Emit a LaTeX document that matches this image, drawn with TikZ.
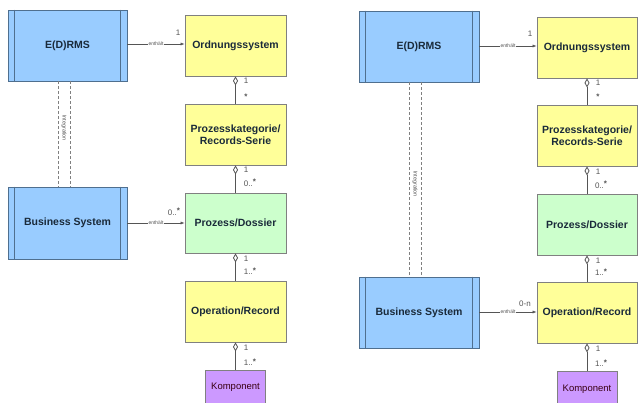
\documentclass[tikz,border=0pt]{standalone}
\usepackage{fontspec}
\setmainfont{Liberation Sans}
\usetikzlibrary{arrows.meta}
\definecolor{bluefill}{HTML}{99CCFF}
\definecolor{blueline}{HTML}{4F6F8F}
\definecolor{yellowfill}{HTML}{FFFF99}
\definecolor{greenfill}{HTML}{CCFFCC}
\definecolor{purplefill}{HTML}{CC99FF}
\definecolor{boxline}{HTML}{808080}
\definecolor{txt}{HTML}{1A2A3A}
\definecolor{lbl}{HTML}{555555}
\newcommand{\mstar}{\raisebox{1.5pt}{\textbf{*}}}
\tikzset{
  sysbox/.style={draw=blueline, line width=0.9pt, fill=bluefill, minimum width=119pt, minimum height=71pt, inner sep=0pt, font=\bfseries\fontsize{10.5}{12.5}\selectfont, text=txt},
  entbox/.style={draw=boxline, line width=0.8pt, minimum width=101pt, minimum height=61pt, inner sep=0pt, align=center, font=\bfseries\fontsize{10.5}{12.5}\selectfont, text=txt},
  kompbox/.style={draw=boxline, line width=0.8pt, fill=purplefill, minimum width=60pt, minimum height=45pt, inner sep=0pt},
  ktext/.style={font=\fontsize{9.5}{11}\selectfont, text=black!70!purple},
  agg/.style={draw=lbl, line width=0.8pt, {Diamond[open,length=9pt,width=5pt]}-},
  assoc/.style={draw=lbl, line width=0.6pt, -{Latex[length=4pt,width=3pt]}},
  integ/.style={draw=gray, line width=0.6pt, dash pattern=on 3pt off 2pt},
  mult/.style={font=\fontsize{8}{9}\selectfont, text=lbl, inner sep=0pt},
  ename/.style={font=\fontsize{5}{6}\selectfont, text=lbl, fill=white, inner sep=0.5pt},
  iname/.style={font=\fontsize{5.5}{6}\selectfont, text=lbl, rotate=-90, inner sep=0pt},
}
\begin{document}
\begin{tikzpicture}[x=1pt, y=-1pt]
\clip (0,0) rectangle (638,403);
\fill[white] (0,0) rectangle (638,403);
% ---------- left diagram ----------
\node[sysbox] (edrmsL) at (67.5,45.5) {E(D)RMS};
\node[sysbox, minimum height=72pt] (bsL) at (67.5,223) {Business System};
\node[entbox, fill=yellowfill] (ordL) at (235.5,45.5) {Ordnungssystem};
\node[entbox, fill=yellowfill] (pkL) at (235.5,134.5) {Prozesskategorie/\\Records-Serie};
\node[entbox, fill=greenfill, minimum height=60pt] (pdL) at (235.5,223) {Prozess/Dossier};
\node[entbox, fill=yellowfill] (orL) at (235.5,311.5) {Operation/Record};
\node[kompbox, anchor=north] (kL) at (235.5,370) {};
\node[ktext] (kLt) at (235.5,387) {Komponent};
% ---------- right diagram ----------
\node[sysbox, minimum width=120pt] (edrmsR) at (419,46.5) {E(D)RMS};
\node[sysbox, minimum width=120pt] (bsR) at (419,312.5) {Business System};
\node[entbox, fill=yellowfill, minimum width=100pt] (ordR) at (587,47.5) {Ordnungssystem};
\node[entbox, fill=yellowfill, minimum width=100pt] (pkR) at (587,135.5) {Prozesskategorie/\\Records-Serie};
\node[entbox, fill=greenfill, minimum width=100pt] (pdR) at (587,224.5) {Prozess/Dossier};
\node[entbox, fill=yellowfill, minimum width=100pt] (orR) at (587,312.5) {Operation/Record};
\node[kompbox, anchor=north] (kR) at (587,371) {};
\node[ktext] (kRt) at (587,389) {Komponent};
% inner lines of system boxes
\foreach \n in {edrmsL,bsL,edrmsR,bsR}{
  \draw[blueline, line width=0.9pt] ([xshift=7pt]\n.north west) -- ([xshift=7pt]\n.south west);
  \draw[blueline, line width=0.9pt] ([xshift=-7pt]\n.north east) -- ([xshift=-7pt]\n.south east);
}
% integration
\draw[integ] ([xshift=-9.5pt]edrmsL.south) -- ([xshift=-9.5pt]bsL.north);
\draw[integ] ([xshift=2.5pt]edrmsL.south) -- ([xshift=2.5pt]bsL.north);
\node[iname] (intL) at (64,128) {Integration};
\draw[integ] ([xshift=-10pt]edrmsR.south) -- ([xshift=-10pt]bsR.north);
\draw[integ] ([xshift=2pt]edrmsR.south) -- ([xshift=2pt]bsR.north);
\node[iname] (intR) at (415,184) {Integration};
% associations
\draw[assoc] (edrmsL.east |- 0,44) -- node[ename]{enthält} (ordL.west |- 0,44);
\node[mult] (m1) at (178,33) {1};
\draw[assoc] (bsL.east |- 0,223) -- node[ename]{enthält} (pdL.west |- 0,223);
\node[mult] (m2) at (174,212) {0..\mstar};
\draw[assoc] (edrmsR.east |- 0,46) -- node[ename]{enthält} (ordR.west |- 0,46);
\node[mult] (m3) at (530,34) {1};
\draw[assoc] (bsR.east |- 0,312) -- node[ename]{enthält} (orR.west |- 0,312);
\node[mult] (m4) at (525,304) {0-n};
% aggregations left
\draw[agg] (ordL) -- (pkL);
\draw[agg] (pkL) -- (pdL);
\draw[agg] (pdL) -- (orL);
\draw[agg] (orL) -- (kL);
\node[mult] at (246,81) {1};
\node[mult] at (246,98) {\mstar};
\node[mult] at (246,170) {1};
\node[mult] at (250,183) {0..\mstar};
\node[mult] at (246,259) {1};
\node[mult] at (250,271) {1..\mstar};
\node[mult] at (246,348) {1};
\node[mult] at (250,362) {1..\mstar};
% aggregations right
\draw[agg] (ordR) -- (pkR);
\draw[agg] (pkR) -- (pdR);
\draw[agg] (pdR) -- (orR);
\draw[agg] (orR) -- (kR);
\node[mult] at (598,83) {1};
\node[mult] at (598,98) {\mstar};
\node[mult] at (598,172) {1};
\node[mult] at (601,185) {0..\mstar};
\node[mult] at (598,261) {1};
\node[mult] at (601,272) {1..\mstar};
\node[mult] at (598,349) {1};
\node[mult] at (601,363) {1..\mstar};
\end{tikzpicture}
\end{document}
